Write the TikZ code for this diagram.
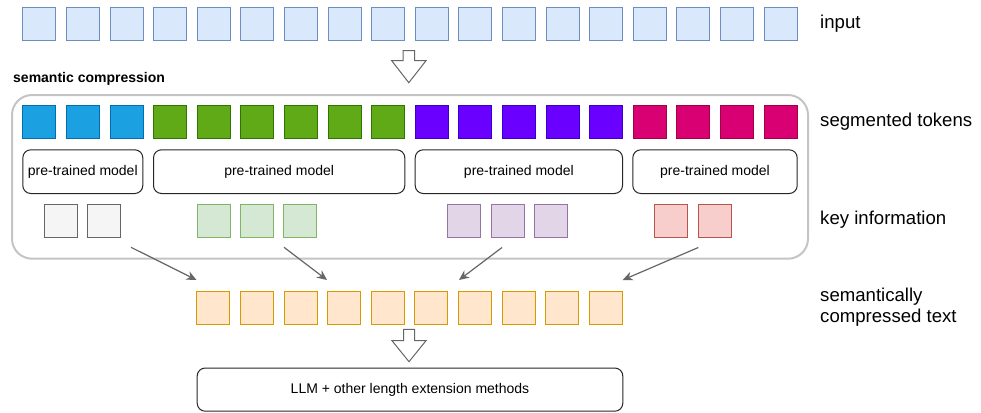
\documentclass[tikz,border=0pt]{standalone}
\usepackage{fontspec}
\setmainfont{Liberation Sans}
\usetikzlibrary{arrows.meta}
\definecolor{inF}{HTML}{DAE8FC}\definecolor{inD}{HTML}{6C8EBF}
\definecolor{blF}{HTML}{1BA1E2}\definecolor{blD}{HTML}{006EAF}
\definecolor{grF}{HTML}{60A917}\definecolor{grD}{HTML}{2D7600}
\definecolor{puF}{HTML}{6A00FF}\definecolor{puD}{HTML}{3700CC}
\definecolor{reF}{HTML}{D80073}\definecolor{reD}{HTML}{A50040}
\definecolor{kgF}{HTML}{F5F5F5}\definecolor{kgD}{HTML}{666666}
\definecolor{kgrF}{HTML}{D5E8D4}\definecolor{kgrD}{HTML}{82B366}
\definecolor{kpF}{HTML}{E1D5E7}\definecolor{kpD}{HTML}{9673A6}
\definecolor{krF}{HTML}{F8CECC}\definecolor{krD}{HTML}{B85450}
\definecolor{coF}{HTML}{FFE6CC}\definecolor{coD}{HTML}{D79B00}
\definecolor{contgray}{HTML}{C4C4C4}
\definecolor{arrowgray}{HTML}{666666}
\begin{document}
\begin{tikzpicture}[x=1pt,y=-1pt,
  sq/.style={draw, minimum width=33pt, minimum height=33pt, inner sep=0pt, line width=1pt, anchor=north west},
  model/.style={draw=black!85, rounded corners=8pt, line width=1pt, minimum height=43.7pt, inner sep=0pt, font=\fontsize{14}{16}\selectfont, anchor=north west},
  lbl/.style={anchor=west, font=\fontsize{18.6}{21}\selectfont, align=left, inner sep=0pt},
  link/.style={draw=arrowgray, line width=1.2pt, -{Stealth[length=10pt,width=9pt]}},
  hollow/.style={draw=arrowgray, fill=white, line width=1pt, line join=miter}]
\useasboundingbox (0,0) rectangle (981,412);

% container
\node[draw=contgray, line width=2pt, rounded corners=20pt, minimum width=796pt, minimum height=163.7pt, anchor=north west, inner sep=0pt] (comp) at (11,94) {};
\node[anchor=west, inner sep=0pt, font=\fontsize{14}{16}\selectfont\bfseries] (comptitle) at (13,79) {semantic compression};

% input row
\foreach \i in {1,...,18} {
  \node[sq, fill=inF, draw=inD] (in\i) at ({22.3+43.6*(\i-1)},7.3) {};
}
% segmented tokens
\foreach \i in {1,...,18} {
  \ifnum\i<4 \def\cf{blF}\def\cd{blD}\else
  \ifnum\i<10 \def\cf{grF}\def\cd{grD}\else
  \ifnum\i<15 \def\cf{puF}\def\cd{puD}\else
  \def\cf{reF}\def\cd{reD}\fi\fi\fi
  \node[sq, fill=\cf, draw=\cd] (tk\i) at ({22.3+43.6*(\i-1)},105) {};
}
% pre-trained models
\node[model, minimum width=120pt] (m1) at (22.3,149.3) {pre-trained model};
\node[model, minimum width=251.3pt] (m2) at (153,149.3) {pre-trained model};
\node[model, minimum width=207.3pt] (m3) at (414.7,149.3) {pre-trained model};
\node[model, minimum width=164.4pt] (m4) at (632.3,149.3) {pre-trained model};

% key information
\node[sq, fill=kgF, draw=kgD] (k1) at (44,203.7) {};
\node[sq, fill=kgF, draw=kgD] (k2) at (87.3,203.7) {};
\node[sq, fill=kgrF, draw=kgrD] (k3) at (196.7,203.7) {};
\node[sq, fill=kgrF, draw=kgrD] (k4) at (240,203.7) {};
\node[sq, fill=kgrF, draw=kgrD] (k5) at (283.3,203.7) {};
\node[sq, fill=kpF, draw=kpD] (k6) at (447.3,203.7) {};
\node[sq, fill=kpF, draw=kpD] (k7) at (490.7,203.7) {};
\node[sq, fill=kpF, draw=kpD] (k8) at (534.3,203.7) {};
\node[sq, fill=krF, draw=krD] (k9) at (654.3,203.7) {};
\node[sq, fill=krF, draw=krD] (k10) at (697.7,203.7) {};

% compressed text
\foreach \i in {1,...,10} {
  \node[sq, fill=coF, draw=coD] (c\i) at ({196.3+43.6*(\i-1)},291) {};
}

% LLM box
\node[model, minimum width=425.6pt, minimum height=43.2pt] (llm) at (196.7,367.5) {LLM + other length extension methods};

% hollow arrows
\draw[hollow] (403,50.7) -- (414.5,50.7) -- (414.5,60.7) -- (426,60.7) -- (408.8,82.7) -- (391.7,60.7) -- (403,60.7) -- cycle;
\draw[hollow] (403.5,329.3) -- (414.5,329.3) -- (414.5,340.7) -- (426,340.7) -- (409,361.7) -- (392,340.7) -- (403.5,340.7) -- cycle;

% connectors
\coordinate (s1) at (131,247.3);
\coordinate (s2) at (284,247.3);
\coordinate (s3) at (502,247.5);
\coordinate (s4) at (698.3,247.5);
\coordinate (t1) at (196.5,280);
\coordinate (t2) at (327,280);
\coordinate (t3) at (459,280);
\coordinate (t4) at (622.7,280);
\draw[link] (s1) -- (t1);
\draw[link] (s2) -- (t2);
\draw[link] (s3) -- (t3);
\draw[link] (s4) -- (t4);

% labels
\node[lbl] (linput) at (820,24) {input};
\node[lbl] (lseg) at (820,121.5) {segmented tokens};
\node[lbl] (lkey) at (820,220) {key information};
\node[lbl] (lcomp) at (820,307.5) {semantically\\compressed text};
\end{tikzpicture}
\end{document}
